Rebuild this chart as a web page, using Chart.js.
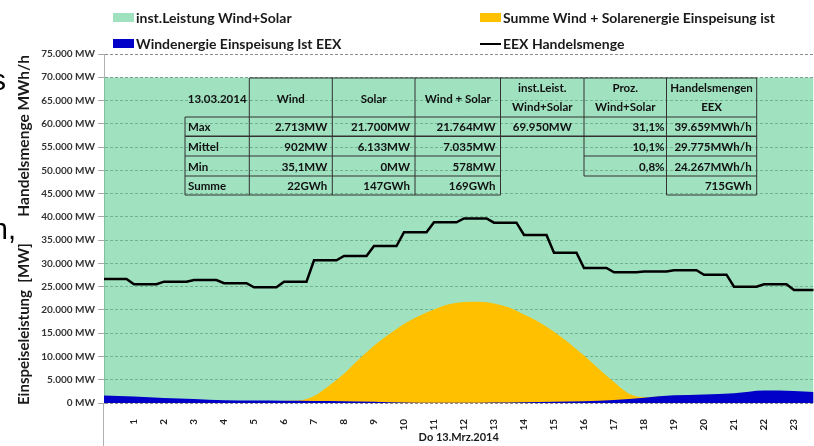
<!DOCTYPE html>
<html>
<head>
<meta charset="utf-8">
<script src="https://cdn.jsdelivr.net/npm/chart.js@4.4.1/dist/chart.umd.min.js"></script>
<style>
    html, body { margin: 0; padding: 0; background: #fff; }
    #wrap { position: relative; width: 814px; height: 446px; overflow: hidden; font-family: Lato, sans-serif; }
    #grafico { position: absolute; left: 0; top: 0; }
    .leg { position: absolute; font-weight: bold; font-size: 14px; color: #1a1a1a; white-space: nowrap; line-height: 16px; }
    .leg i { display: inline-block; width: 21px; height: 9px; margin-right: 2px; vertical-align: 1px; }
    .leg i.linie { height: 2px; vertical-align: 4px; }
    .cut { position: absolute; font-family: "Liberation Sans", Arial, sans-serif; font-size: 29px; line-height: 29px; color: #000; }
</style>
</head>
<body>
<div id="wrap">
    <canvas id="grafico" width="814" height="446"></canvas>
    <div class="cut" style="right:808px; top:66px">s</div>
    <div class="cut" style="right:798px; top:215px">h,</div>
    <div id="legende"></div>
</div>
<script>
/* ================================
      DATEN
================================ */
const stundenTicks  = [1, 2, 3, 4, 5, 6, 7, 8, 9, 10, 11, 12, 13, 14, 15, 16, 17, 18, 19, 20, 21, 22, 23];
const stundenLabels = ["1", "2", "3", "4", "5", "6", "7", "8", "9", "10", "11", "12", "13", "14", "15", "16", "17", "18", "19", "20", "21", "22", "23"];

// EEX Handelsmenge, Stundenwerte 0..23 (MWh/h)
const handelsmenge = [26650, 25510, 26070, 26430, 25730, 24870, 26070, 30670, 31590, 33740, 36690, 38840,
                      39659, 38750, 36110, 32300, 29010, 28090, 28260, 28520, 27570, 24990, 25510, 24267];

// Windenergie, Stunden 0..24 (MW)
const windStunden = [0, 1, 2, 3, 4, 5, 6, 7, 8, 9, 10, 11, 12, 13, 14, 15, 16, 17, 18, 19, 20, 21, 22, 23, 24];
const windWerte   = [1600, 1400, 1100, 850, 600, 550, 500, 450, 400, 250, 100, 50, 40, 100, 150, 250, 380, 650,
                     1150, 1650, 1850, 2100, 2700, 2600, 2200];

// Summe Wind + Solar, halbstündlich 6:00..18:30 (MW)
const summeStunden = [6, 6.5, 7, 7.5, 8, 8.5, 9, 9.5, 10, 10.5, 11, 11.5, 12, 12.5, 13, 13.5, 14, 14.5, 15, 15.5,
                      16, 16.5, 17, 17.5, 18, 18.5];
const summeWerte   = [500, 550, 1500, 3700, 6300, 9400, 12300, 14800, 17000, 18700, 20100, 21200, 21700, 21764,
                      21400, 20500, 19000, 17400, 15300, 12900, 10200, 7300, 4500, 2000, 1250, 1400];

// installierte Leistung Wind+Solar (MW)
const instLeistung = 69950;

// Tabelle
const tabelleKopf = ["13.03.2014", "Wind", "Solar", "Wind + Solar", ["inst.Leist.", "Wind+Solar"], ["Proz.", "Wind+Solar"], ["Handelsmengen", "EEX"]];
const tabelleZeilen = [
    ["Max",    "2.713MW", "21.700MW", "21.764MW", "69.950MW", "31,1%", "39.659MWh/h"],
    ["Mittel", "902MW",   "6.133MW",  "7.035MW",  "",         "10,1%", "29.775MWh/h"],
    ["Min",    "35,1MW",  "0MW",      "578MW",    "",         "0,8%",  "24.267MWh/h"],
    ["Summe",  "22GWh",   "147GWh",   "169GWh",   "",         "",      "715GWh"]
];

/* ================================
      PUNKTE AUFBAUEN
================================ */
const handelsPunkte = [];
handelsmenge.forEach((wert, h) => {
    for (let q = 0; q < 4; q++) handelsPunkte.push({ x: h + q * 0.25, y: wert });
});
const windPunkte  = windStunden.map((x, i) => ({ x, y: windWerte[i] }));
const summePunkte = summeStunden.map((x, i) => ({ x, y: summeWerte[i] }));
const instPunkte  = [{ x: 0, y: instLeistung }, { x: 24, y: instLeistung }];

/* ================================
      PLUGIN — TABELLE + ACHSENTITEL
================================ */
const tabellePlugin = {
    id: "tabelle",
    afterDatasetsDraw(chart) {
        const ctx = chart.ctx;
        const colX = [185, 249.3, 332.3, 415, 500.5, 584, 666.5, 756.7];
        const rowY = [78, 117, 136.3, 156, 176, 195];

        ctx.save();
        ctx.strokeStyle = "#333";
        ctx.lineWidth = 1;
        const linie = (x1, y1, x2, y2, w) => {
            ctx.lineWidth = w || 1;
            ctx.beginPath();
            ctx.moveTo(x1, y1);
            ctx.lineTo(x2, y2);
            ctx.stroke();
        };
        // waagrecht
        linie(colX[1], rowY[0], colX[7], rowY[0]);
        linie(colX[0], rowY[1], colX[7], rowY[1]);
        linie(colX[0], rowY[2], colX[7], rowY[2], 1.6);
        linie(colX[0], rowY[3], colX[4], rowY[3]);
        linie(colX[5], rowY[3], colX[7], rowY[3]);
        linie(colX[0], rowY[4], colX[4], rowY[4]);
        linie(colX[5], rowY[4], colX[7], rowY[4]);
        linie(colX[0], rowY[5], colX[4], rowY[5]);
        linie(colX[6], rowY[5], colX[7], rowY[5]);
        // senkrecht
        linie(colX[0], rowY[1], colX[0], rowY[5]);
        [1, 2, 3, 4, 6, 7].forEach(i => linie(colX[i], rowY[0], colX[i], rowY[5]));
        linie(colX[5], rowY[0], colX[5], rowY[4]);

        // Text
        ctx.fillStyle = "#111";
        ctx.font = "bold 11.5px Lato";
        ctx.textBaseline = "middle";
        ctx.textAlign = "center";
        tabelleKopf.forEach((txt, i) => {
            const mx = (colX[i] + colX[i + 1]) / 2;
            if (Array.isArray(txt)) {
                ctx.fillText(txt[0], mx, 88);
                ctx.fillText(txt[1], mx, 107);
            } else {
                ctx.fillText(txt, mx, 99);
            }
        });
        tabelleZeilen.forEach((zeile, r) => {
            const my = (rowY[r + 1] + rowY[r + 2]) / 2 + 1;
            zeile.forEach((txt, i) => {
                if (!txt) return;
                if (i === 0) {
                    ctx.textAlign = "left";
                    ctx.fillText(txt, colX[0] + 3, my);
                } else if (i === 4) {
                    ctx.textAlign = "center";
                    ctx.fillText(txt, (colX[4] + colX[5]) / 2, my);
                } else {
                    ctx.textAlign = "right";
                    ctx.fillText(txt, colX[i + 1] - (i === 5 ? 2 : 5), my);
                }
            });
        });
        ctx.restore();
    },
    afterDraw(chart) {
        const ctx = chart.ctx;
        const a = chart.chartArea;
        ctx.save();
        // Achse nach unten verlaengert
        ctx.strokeStyle = "#b0b0b0";
        ctx.lineWidth = 1;
        ctx.beginPath();
        ctx.moveTo(a.left - 0.5, a.bottom);
        ctx.lineTo(a.left - 0.5, chart.height);
        ctx.stroke();

        // Y-Titel
        ctx.fillStyle = "#1a1a1a";
        ctx.textBaseline = "middle";
        ctx.translate(24, 0);
        ctx.rotate(-Math.PI / 2);
        ctx.font = "bold 15px Lato";
        ctx.textAlign = "left";
        ctx.fillText("Einspeiseleistung  [MW]", -405, 0);
        ctx.font = "bold 15.5px Lato";
        ctx.textAlign = "right";
        ctx.fillText("Handelsmenge MWh/h", -55, 0);
        ctx.restore();
    }
};

/* ================================
      DIAGRAMM
================================ */
const datasets = [
    {
        label: "EEX Handelsmenge",
        data: handelsPunkte,
        borderColor: "#000",
        borderWidth: 2.5,
        pointRadius: 0,
        fill: false,
        order: 0
    },
    {
        label: "Windenergie Einspeisung Ist EEX",
        data: windPunkte,
        backgroundColor: "#0000c8",
        borderWidth: 0,
        pointRadius: 0,
        fill: "origin",
        cubicInterpolationMode: "monotone",
        order: 1
    },
    {
        label: "Summe Wind + Solarenergie Einspeisung ist",
        data: summePunkte,
        backgroundColor: "#ffc000",
        borderWidth: 0,
        pointRadius: 0,
        fill: "origin",
        cubicInterpolationMode: "monotone",
        order: 2
    },
    {
        label: "inst.Leistung Wind+Solar",
        data: instPunkte,
        backgroundColor: "rgba(97,205,150,0.6)",
        borderWidth: 0,
        pointRadius: 0,
        fill: "origin",
        order: 3
    }
];

new Chart(document.getElementById("grafico"), {
    type: "line",
    data: { datasets },
    plugins: [tabellePlugin],
    options: {
        responsive: false,
        animation: false,
        devicePixelRatio: 1,
        layout: { padding: { top: 54, left: 0, right: 0, bottom: 0 } },
        plugins: { legend: { display: false }, tooltip: { enabled: false } },
        scales: {
            x: {
                type: "linear",
                min: 0,
                max: 23.65,
                grid: { display: false },
                border: { display: false },
                afterBuildTicks: s => { s.ticks = stundenTicks.map(v => ({ value: v })); },
                afterFit: s => { s.height = 43; },
                ticks: {
                    minRotation: 90,
                    maxRotation: 90,
                    padding: 8,
                    color: "#222",
                    font: { family: "Lato", size: 10, weight: "bold" },
                    callback: v => stundenLabels[stundenTicks.indexOf(v)]
                },
                title: {
                    display: true,
                    text: "Do 13.Mrz.2014",
                    color: "#1a1a1a",
                    font: { family: "Lato", size: 11, weight: "bold" },
                    padding: { top: 0, bottom: 2 }
                }
            },
            y: {
                min: 0,
                max: 75000,
                afterFit: s => { s.width = 104; },
                grid: { color: "#8c8c8c", tickLength: 6, tickColor: "#a8a8a8", tickBorderDash: [] },
                border: { display: true, color: "#b0b0b0", dash: [3, 2] },
                ticks: {
                    stepSize: 5000,
                    padding: 3,
                    color: "#333",
                    font: { family: "Lato", size: 10, weight: "bold" },
                    callback: v => v.toLocaleString("de-DE") + " MW"
                }
            }
        }
    }
});

/* ================================
      LEGENDE
================================ */
const legPos = {
    "inst.Leistung Wind+Solar": [113, 10],
    "Summe Wind + Solarenergie Einspeisung ist": [480, 10],
    "Windenergie Einspeisung Ist EEX": [113, 36],
    "EEX Handelsmenge": [480, 36]
};
const legende = document.getElementById("legende");
datasets.forEach(ds => {
    const [l, t] = legPos[ds.label];
    const el = document.createElement("div");
    el.className = "leg";
    el.style.left = l + "px";
    el.style.top = t + "px";
    const sw = document.createElement("i");
    if (ds.fill) {
        sw.style.background = ds.backgroundColor;
    } else {
        sw.className = "linie";
        sw.style.background = ds.borderColor;
    }
    el.appendChild(sw);
    el.appendChild(document.createTextNode(ds.label));
    legende.appendChild(el);
});
</script>
</body>
</html>
